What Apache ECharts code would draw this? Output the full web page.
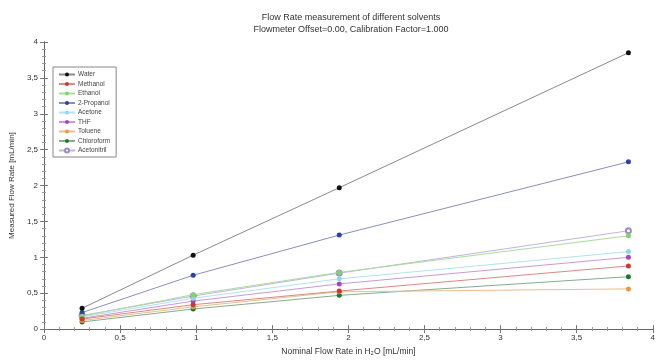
<!DOCTYPE html>
<html>
<head>
<meta charset="utf-8">
<script src="https://cdn.jsdelivr.net/npm/echarts@6/dist/echarts.min.js"></script>
<style>
  html, body { margin: 0; padding: 0; background: #fff; }
  #chart { width: 658px; height: 361px; }
</style>
</head>
<body>
<div id="chart"></div>
<script>
(function () {
    // nominal flow (x)
    var nominal = [0.25, 0.98, 1.94, 3.84];
    // measured values per solvent
    var solvents = ['Water', 'Methanol', 'Ethanol', '2-Propanol', 'Acetone', 'THF', 'Toluene', 'Chloroform', 'Acetonitril'];
    var water = [0.29, 1.03, 1.97, 3.85];
    var methanol = [0.14, 0.34, 0.53, 0.88];
    var ethanol = [0.18, 0.48, 0.79, 1.30];
    var propanol = [0.23, 0.75, 1.31, 2.33];
    var acetone = [0.17, 0.43, 0.70, 1.08];
    var thf = [0.15, 0.39, 0.63, 1.00];
    var toluene = [0.12, 0.31, 0.52, 0.56];
    var chloroform = [0.10, 0.28, 0.47, 0.73];
    var acetonitril = [0.19, 0.46, 0.78, 1.37];
    var tickLabels = ['0', '0,5', '1', '1,5', '2', '2,5', '3', '3,5', '4'];

    var values = [water, methanol, ethanol, propanol, acetone, thf, toluene, chloroform, acetonitril];
    var colors = ['#111111', '#d0352f', '#7fd46c', '#2b3fae', '#8fd6ea', '#a446c4', '#ea9a42', '#1e7b2e', '#9f8ac8'];
    var lineColors = ['#8a8a8a', '#d88a86', '#a8dd9c', '#8a8fb8', '#b3e2ef', '#c79ad6', '#e9c08e', '#86ad8c', '#c3b3de'];

    var seriesData = [];
    for (var i = 0; i < solvents.length; i++) {
        var pts = [];
        for (var j = 0; j < nominal.length; j++) {
            pts.push([nominal[j], values[i][j]]);
        }
        var open = solvents[i] === 'Acetonitril';
        seriesData.push({
            name: solvents[i],
            type: 'line',
            data: pts,
            symbol: open ? 'emptyCircle' : 'circle',
            symbolSize: 5,
            itemStyle: { color: colors[i], borderWidth: open ? 1.2 : 0 },
            lineStyle: { color: lineColors[i], width: 1 },
            z: 10 - i
        });
    }

    function fmt(v) {
        var k = Math.round(v * 2);
        return tickLabels[k] !== undefined ? tickLabels[k] : '';
    }

    var axisCommon = {
        type: 'value',
        min: 0,
        max: 4,
        interval: 0.5,
        splitLine: { show: false },
        axisLine: { show: true, lineStyle: { color: '#666', width: 1 } },
        axisTick: { show: true, inside: true, length: 4, lineStyle: { color: '#777' } },
        minorTick: { show: true, splitNumber: 5, length: 2, lineStyle: { color: '#999' } }
    };

    var myChart = echarts.init(document.getElementById('chart'));
    var option = {
        backgroundColor: '#fff',
        animation: false,
        title: {
            text: 'Flow Rate measurement of different solvents\nFlowmeter Offset=0.00, Calibration Factor=1.000',
            left: 346,
            top: 7,
            textAlign: 'center',
            textStyle: { fontSize: 9, fontWeight: 'normal', color: '#333', lineHeight: 12, fontFamily: 'Liberation Sans' }
        },
        legend: {
            orient: 'vertical',
            left: 53,
            top: 67,
            padding: [4, 6, 3, 5],
            itemGap: 2.5,
            itemWidth: 16,
            itemHeight: 5,
            borderColor: '#888',
            borderWidth: 1,
            backgroundColor: '#fff',
            textStyle: { fontSize: 6.5, color: '#444', padding: [0, 0, 0, -2], fontFamily: 'Liberation Sans' },
            data: solvents
        },
        grid: { left: 39, right: 5, top: 42, bottom: 24, containLabel: false },
        xAxis: [
            Object.assign({}, axisCommon, {
                position: 'bottom',
                name: 'Nominal Flow Rate in H\u2082O [mL/min]',
                nameLocation: 'middle',
                nameGap: 15,
                nameTextStyle: { fontSize: 8.5, color: '#333', fontFamily: 'Liberation Sans' },
                axisLabel: { fontSize: 8, color: '#333', margin: 5, formatter: fmt }
            }),
            Object.assign({}, axisCommon, {
                position: 'top',
                axisLabel: { show: false }
            })
        ],
        yAxis: [
            Object.assign({}, axisCommon, {
                position: 'left',
                name: 'Measured Flow Rate [mL/min]',
                nameLocation: 'middle',
                nameGap: 22,
                nameTextStyle: { fontSize: 8, color: '#333', fontFamily: 'Liberation Sans' },
                axisLabel: { fontSize: 8, color: '#333', margin: 6, formatter: fmt }
            }),
            Object.assign({}, axisCommon, {
                position: 'right',
                axisLabel: { show: false }
            })
        ],
        series: seriesData
    };
    myChart.setOption(option);
})();
</script>
</body>
</html>
